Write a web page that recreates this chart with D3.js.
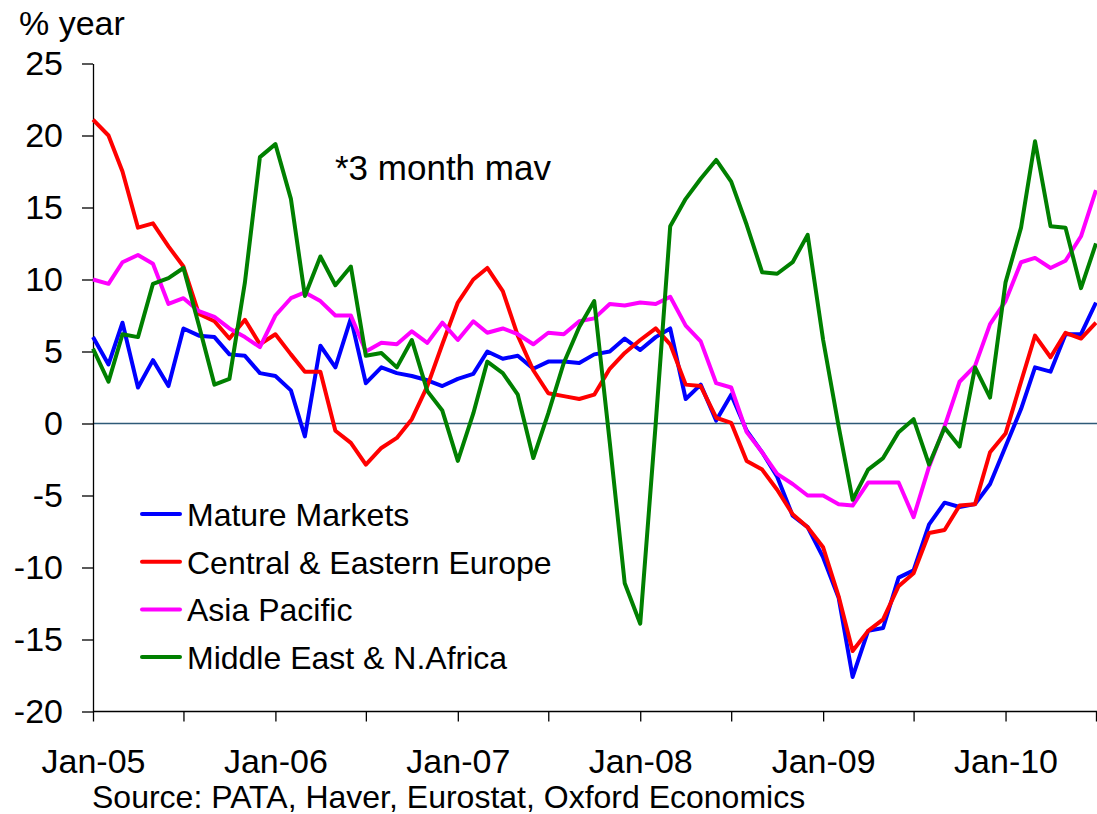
<!DOCTYPE html>
<html>
<head>
<meta charset="utf-8">
<script src="https://cdnjs.cloudflare.com/ajax/libs/d3/7.8.5/d3.min.js"></script>
<style>
  body { margin: 0; background: #fff; }
  text { font-family: "Liberation Sans", Arial, sans-serif; fill: #000; }
</style>
</head>
<body>
<div id="chart"></div>
<script>
// data, monthly Jan-05 .. Jul-10 (% year, 3 month mav)
const startMonth = new Date(2005, 0, 1);
const endMonth = new Date(2010, 7, 1);

const matureMarkets = [
  6.0, 4.1, 7.0, 2.5, 4.4, 2.6, 6.6, 6.1, 6.0, 4.8, 4.7, 3.5,
  3.3, 2.3, -0.9, 5.4, 3.9, 7.3, 2.8, 3.9, 3.5, 3.3, 3.0, 2.6,
  3.1, 3.45, 5.0, 4.5, 4.7, 3.8, 4.3, 4.3, 4.2, 4.8, 5.0, 5.9,
  5.1, 6.0, 6.6, 1.7, 2.7, 0.2, 2.0, -0.5, -2.0, -3.7, -6.4, -7.2,
  -9.3, -12.1, -17.6, -14.4, -14.2, -10.7, -10.2, -7.0, -5.5, -5.8, -5.6, -4.2,
  -1.6, 1.0, 3.9, 3.6, 6.2, 6.2, 8.4
];
const centralEastEurope = [
  21.1, 20.0, 17.5, 13.6, 13.9, 12.3, 10.9, 7.6, 7.1, 5.9, 7.2, 5.5,
  6.2, 4.8, 3.6, 3.6, -0.5, -1.35, -2.85, -1.7, -1.0, 0.3, 2.6, 5.5,
  8.4, 10.0, 10.8, 9.2, 6.1, 3.7, 2.1, 1.9, 1.7, 2.0, 3.8, 4.9,
  5.8, 6.6, 5.5, 2.7, 2.6, 0.4, 0.05, -2.6, -3.2, -4.6, -6.3, -7.2,
  -8.6, -12.0, -15.8, -14.4, -13.6, -11.3, -10.4, -7.6, -7.4, -5.7, -5.6, -2.0,
  -0.7, 2.9, 6.1, 4.6, 6.3, 5.9, 7.0
];
const asiaPacific = [
  10.0, 9.7, 11.2, 11.7, 11.1, 8.3, 8.7, 7.8, 7.4, 6.6, 6.0, 5.3,
  7.5, 8.7, 9.1, 8.5, 7.5, 7.5, 5.0, 5.6, 5.5, 6.4, 5.6, 7.0,
  5.8, 7.1, 6.3, 6.6, 6.2, 5.5, 6.3, 6.2, 7.1, 7.3, 8.3, 8.2,
  8.4, 8.3, 8.8, 6.8, 5.7, 2.8, 2.5, -0.6, -2.0, -3.5, -4.2, -5.0,
  -5.0, -5.6, -5.7, -4.1, -4.1, -4.1, -6.5, -3.0, -0.2, 2.9, 4.0, 6.9,
  8.5, 11.2, 11.5, 10.8, 11.3, 13.0, 16.2
];
const middleEastAfrica = [
  5.2, 2.9, 6.2, 6.0, 9.7, 10.1, 10.8, 6.8, 2.7, 3.1, 9.8, 18.5,
  19.4, 15.6, 8.85, 11.6, 9.6, 10.9, 4.7, 4.9, 3.9, 5.8, 2.25, 0.9,
  -2.6, 0.7, 4.3, 3.5, 2.0, -2.4, 0.7, 4.2, 6.7, 8.5, -1.3, -11.1,
  -13.9, 0.0, 13.7, 15.6, 17.0, 18.3, 16.8, 13.8, 10.5, 10.4, 11.2, 13.1,
  5.8, -0.2, -5.3, -3.2, -2.4, -0.6, 0.3, -2.85, -0.3, -1.6, 3.9, 1.8,
  9.8, 13.6, 19.6, 13.7, 13.6, 9.4, 12.5
];

const seriesNames = ["Mature Markets", "Central & Eastern Europe", "Asia Pacific", "Middle East & N.Africa"];
const seriesColors = ["#0000ff", "#ff0000", "#ff00ff", "#008000"];
const yTicks = [-20, -15, -10, -5, 0, 5, 10, 15, 20, 25];
const xTickLabels = ["Jan-05", "Jan-06", "Jan-07", "Jan-08", "Jan-09", "Jan-10"];

const w = 1097, h = 814;
const months = d3.timeMonth.range(startMonth, endMonth);
const allSeries = [matureMarkets, centralEastEurope, asiaPacific, middleEastAfrica];

const svg = d3.select('#chart')
  .append('svg')
  .attr('width', w)
  .attr('height', h);

const xScale = d3.scaleTime()
  .domain([months[0], months[months.length - 1]])
  .range([93, 1096]);

const yScale = d3.scaleLinear()
  .domain([-20, 25])
  .range([711.5, 63.5]);

// zero line
svg.append('line')
  .attr('x1', xScale.range()[0])
  .attr('x2', w)
  .attr('y1', yScale(0))
  .attr('y2', yScale(0))
  .attr('stroke', '#2e5a78')
  .attr('stroke-width', 1.3);

// x axis: ticks every 6 months, labels on January
const xTickValues = months.filter((d, i) => i % 6 === 0);
const xAxis = d3.axisBottom(xScale)
  .tickValues(xTickValues)
  .tickSize(10)
  .tickSizeOuter(0)
  .tickFormat(d => d.getMonth() === 0 ? xTickLabels[d.getFullYear() - 2005] : '');

const gx = svg.append('g')
  .attr('transform', 'translate(0,' + yScale(-20) + ')')
  .call(xAxis);
gx.select('.domain').attr('d', 'M93,0H' + w).attr('stroke', '#000').attr('stroke-width', 1.3);
gx.selectAll('.tick line').attr('stroke', '#000').attr('stroke-width', 1.3);
gx.selectAll('.tick text')
  .attr('y', 61)
  .attr('dy', null)
  .style('font-size', '34px')
  .style('font-family', '"Liberation Sans", Arial, sans-serif')
  .attr('fill', '#000');

// y axis (plain hyphen for negatives, like the original)
const yAxis = d3.axisLeft(yScale)
  .tickValues(yTicks)
  .tickSize(11)
  .tickSizeOuter(0)
  .tickPadding(19)
  .tickFormat(d => String(d));

const gy = svg.append('g')
  .attr('transform', 'translate(' + xScale.range()[0] + ',0)')
  .call(yAxis);
gy.select('.domain').attr('stroke', '#000').attr('stroke-width', 1.3);
gy.selectAll('.tick line').attr('stroke', '#000').attr('stroke-width', 1.3);
gy.selectAll('.tick text')
  .style('font-size', '34px')
  .style('font-family', '"Liberation Sans", Arial, sans-serif')
  .attr('fill', '#000');

// lines
const line = d3.line()
  .x((d, i) => xScale(months[i]))
  .y(d => yScale(d));

svg.selectAll('path.series')
  .data(allSeries)
  .enter()
  .append('path')
  .attr('class', 'series')
  .attr('d', d => line(d))
  .attr('fill', 'none')
  .attr('stroke', (d, i) => seriesColors[i])
  .attr('stroke-width', 4)
  .attr('stroke-linejoin', 'round');

// legend
const legend = svg.append('g');
seriesNames.forEach((name, i) => {
  const ly = 514 + i * 47.7;
  legend.append('line')
    .attr('x1', 142).attr('x2', 180)
    .attr('y1', ly).attr('y2', ly)
    .attr('stroke', seriesColors[i])
    .attr('stroke-width', 4)
    .attr('stroke-linecap', 'round');
  legend.append('text')
    .attr('x', 187)
    .attr('y', ly + 12)
    .style('font-size', '32px')
    .text(name);
});

// texts
svg.append('text')
  .attr('x', 19).attr('y', 35)
  .style('font-size', '34px')
  .text('% year');

svg.append('text')
  .attr('x', 335).attr('y', 180)
  .style('font-size', '35px')
  .text('*3 month mav');

svg.append('text')
  .attr('x', 92).attr('y', 808)
  .style('font-size', '32px')
  .text('Source: PATA, Haver, Eurostat, Oxford Economics');
</script>
</body>
</html>
